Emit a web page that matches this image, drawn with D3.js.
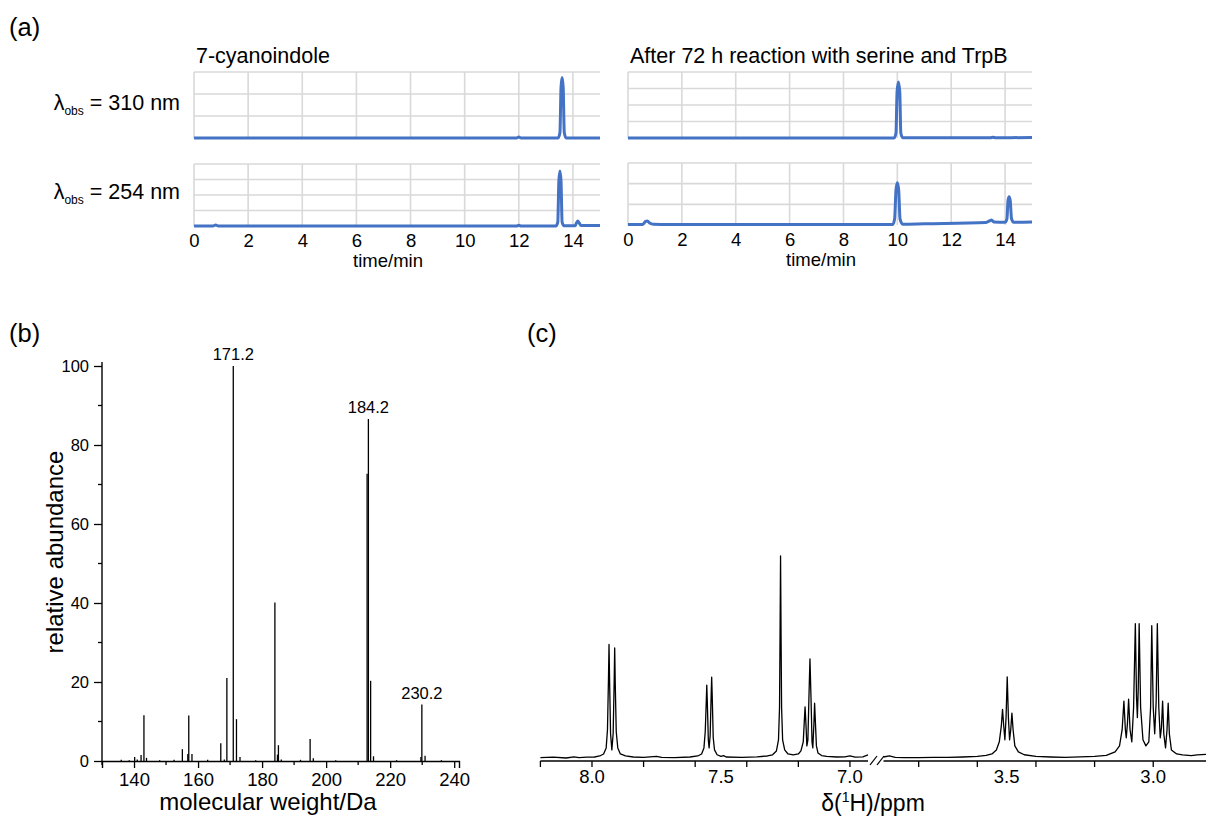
<!DOCTYPE html>
<html><head><meta charset="utf-8">
<script src="https://cdn.jsdelivr.net/npm/d3@7"></script>
<style>
body{margin:0;background:#fff}
svg text{font-family:"Liberation Sans",Arial,sans-serif;fill:#000}
</style>
</head><body>
<svg id="fig" width="1206" height="819"></svg>
<script>
// ---------------- DATA ----------------
// (a) HPLC chromatograms: [time/min, absorbance (grid units)]
const timeTicks = [0, 2, 4, 6, 8, 10, 12, 14];
const chromTitles = ["7-cyanoindole", "After 72 h reaction with serine and TrpB"];
const wavelengths = ["310", "254"];
const chromL310 = [[0,0],[11.92,0],[12.0,0.04],[12.08,0],[13.45,0],[13.52,0.25],[13.56,2.3],[13.6,2.75],[13.64,2.3],[13.68,0.25],[13.75,0],[15,0]];
const chromL254 = [[0,0],[0.7,0],[0.8,0.06],[0.9,0],[11.92,0],[12.0,0.05],[12.08,0],[13.37,0],[13.44,0.25],[13.48,2.9],[13.52,3.55],[13.56,2.9],[13.6,0.25],[13.67,0.02],[14.08,0.02],[14.13,0.2],[14.18,0.32],[14.23,0.2],[14.3,0.04],[15,0.04]];
const chromR310 = [[0,0],[9.88,0],[9.95,0.3],[9.99,2.8],[10.04,3.4],[10.09,2.8],[10.13,0.3],[10.2,0.01],[13.45,0.01],[13.55,0.05],[13.65,0.01],[14.2,0.02],[15,0.03]];
const chromR254 = [[0,0.02],[0.55,0.03],[0.65,0.17],[0.72,0.19],[0.8,0.1],[0.95,0.04],[1.5,0.02],[9.83,0.02],[9.9,0.3],[9.95,1.7],[10.0,2.05],[10.05,1.7],[10.1,0.3],[10.2,0.04],[11,0.06],[13.3,0.12],[13.42,0.2],[13.5,0.24],[13.58,0.15],[14.0,0.13],[14.07,0.3],[14.11,1.2],[14.15,1.37],[14.19,1.2],[14.24,0.3],[14.32,0.13],[15,0.14]];
const gridMaxL310 = 3, gridMaxL254 = 4, gridMaxR310 = 4, gridMaxR254 = 3;

// (b) mass spectrum: [m/z, relative abundance]
const msTicksMajor = [140, 160, 180, 200, 220, 240];
const msTicksMinor = [130, 150, 170, 190, 210, 230];
const abTicksMajor = [0, 20, 40, 60, 80, 100];
const abTicksMinor = [10, 30, 50, 70, 90];
const msPeaks = [[136.0,0.3],[138.5,0.2],[140.2,1.0],[141.0,0.4],[142.2,1.5],[143.1,11.6],[143.9,0.8],[148.0,0.2],[152.5,0.3],[155.1,3.0],[156.8,1.8],[157.1,11.5],[158.1,1.8],[163.0,0.3],[167.1,4.5],[168.2,0.4],[169.0,21.0],[171.0,100],[172.0,10.6],[173.1,1.0],[178.0,0.2],[184.0,40.1],[184.8,1.6],[185.1,4.0],[186.0,0.4],[192.0,0.3],[195.0,5.6],[196.0,0.7],[203.0,0.2],[212.8,72.7],[213.2,86.6],[213.9,20.3],[214.8,1.2],[222.0,0.2],[229.6,1.0],[229.9,14.3],[230.9,1.3],[236.0,0.2]];
const msLabelMz = [171.0, 213.2, 229.9];
const msLabelVal = [100, 86.6, 14.3];
const msLabelText = ["171.2", "184.2", "230.2"];

// (c) 1H NMR: [ppm, intensity]
const nmrTicksLeft = [8.2, 8.0, 7.8, 7.6, 7.4, 7.2, 7.0];
const nmrLabelsLeft = [8.0, 7.5, 7.0];
const nmrTicksRight = [3.8, 3.6, 3.4, 3.2, 3.0];
const nmrLabelsRight = [3.5, 3.0];
const nmrLeft = [[8.20,0.2],[8.15,0.4],[8.10,0.0],[8.07,0.6],[8.05,0.2],[8.02,0.4],[7.99,0.5],[7.97,1.0],[7.955,2.0],[7.945,5],[7.940,14],[7.936,40],[7.934,56.2],[7.932,40],[7.928,12],[7.923,4],[7.918,12],[7.914,38],[7.912,54.5],[7.910,38],[7.906,13],[7.900,5],[7.89,2.0],[7.87,1.0],[7.84,0.5],[7.80,0.3],[7.75,0.8],[7.73,0.3],[7.68,0.2],[7.62,0.5],[7.59,1.0],[7.575,2],[7.566,5],[7.561,13],[7.557,28],[7.555,36.1],[7.553,28],[7.549,9],[7.546,5],[7.542,11],[7.538,31],[7.536,40],[7.534,31],[7.530,10],[7.525,4],[7.515,1.6],[7.50,0.8],[7.49,1.2],[7.48,0.5],[7.42,0.3],[7.36,0.6],[7.32,1.0],[7.30,1.6],[7.285,3.5],[7.277,9],[7.273,25],[7.271,60],[7.269,100],[7.267,60],[7.265,25],[7.261,9],[7.253,4],[7.24,2.0],[7.22,1.5],[7.20,2.0],[7.19,3.5],[7.181,8],[7.177,18],[7.174,25.3],[7.171,18],[7.167,6],[7.163,9],[7.159,30],[7.155,49.1],[7.151,30],[7.147,8],[7.144,5],[7.140,16],[7.137,27.1],[7.134,18],[7.130,6],[7.124,2.5],[7.11,1.2],[7.09,0.8],[7.05,0.5],[7.02,0.6],[7.00,1.0],[6.98,0.4],[6.95,0.6],[6.93,1.5]];
const nmrRight = [[3.92,0.5],[3.90,1.0],[3.88,0.3],[3.85,0.2],[3.80,0.2],[3.75,0.3],[3.70,0.3],[3.65,0.5],[3.60,0.8],[3.57,1.3],[3.55,2.0],[3.535,4],[3.525,8],[3.518,16],[3.514,24.1],[3.510,16],[3.506,9],[3.502,20],[3.498,40.2],[3.494,20],[3.490,9],[3.486,14],[3.482,22.2],[3.478,14],[3.472,6],[3.46,3],[3.44,1.6],[3.40,0.8],[3.35,0.5],[3.30,0.3],[3.25,0.6],[3.20,0.8],[3.16,1.3],[3.13,3],[3.115,6],[3.106,14],[3.100,28.2],[3.095,14],[3.092,10],[3.088,17],[3.084,29.1],[3.079,14],[3.073,8],[3.067,25],[3.061,66.5],[3.057,30],[3.054,20],[3.051,35],[3.048,66.5],[3.043,25],[3.035,9],[3.025,6],[3.015,8],[3.009,25],[3.005,65.5],[3.000,25],[2.995,12],[2.990,28],[2.986,66.5],[2.981,25],[2.976,10],[2.972,15],[2.968,28.2],[2.964,12],[2.958,5],[2.953,14],[2.949,27.1],[2.945,12],[2.938,4],[2.92,2.0],[2.90,1.5],[2.87,1.2],[2.85,1.5],[2.82,1.8]];

// ---------------- DRAW ----------------
const svg = d3.select("#fig");
const F = "Liberation Sans, Arial, sans-serif";
const blue = "#4472c4", grid = "#d9d9d9";

function panelLabel(txt, x, y){
  svg.append("text").attr("x", x).attr("y", y).attr("font-size", 25.5).text(txt);
}
panelLabel("(a)", 9, 36);
panelLabel("(b)", 9, 342);
panelLabel("(c)", 527, 342);

// ---- (a) ----
const chromPanels = [
  {data: chromL310, xr: [194, 600], yr: [138, 72], gmax: gridMaxL310, axis: false},
  {data: chromL254, xr: [194, 600], yr: [226, 164], gmax: gridMaxL254, axis: true},
  {data: chromR310, xr: [628, 1032], yr: [138, 72], gmax: gridMaxR310, axis: false},
  {data: chromR254, xr: [628, 1032], yr: [225, 163], gmax: gridMaxR254, axis: true}
];
chromPanels.forEach(p => {
  const x = d3.scaleLinear().domain([0, 15]).range(p.xr);
  const y = d3.scaleLinear().domain([0, p.gmax]).range(p.yr);
  const g = svg.append("g");
  g.selectAll("line.h").data(y.ticks(p.gmax).filter(d => d > 0)).join("line")
    .attr("x1", x(0)).attr("x2", x(15)).attr("y1", d => y(d)).attr("y2", d => y(d))
    .attr("stroke", grid).attr("stroke-width", 1.6);
  g.selectAll("line.v").data(timeTicks).join("line")
    .attr("x1", d => x(d)).attr("x2", d => x(d)).attr("y1", y(0)).attr("y2", y(p.gmax))
    .attr("stroke", grid).attr("stroke-width", 1.6);
  g.append("path").datum(p.data)
    .attr("d", d3.line().x(d => x(d[0])).y(d => y(d[1])).curve(d3.curveMonotoneX))
    .attr("fill", "none").attr("stroke", blue).attr("stroke-width", 3).attr("stroke-linejoin", "round");
  if (p.axis) {
    const ax = g.append("g").attr("transform", `translate(0,${y(0)})`)
      .call(d3.axisBottom(x).tickValues(timeTicks).tickSize(0).tickPadding(8));
    ax.select(".domain").remove();
    ax.selectAll("text").attr("font-size", 18.5).attr("font-family", F).attr("fill", "#000");
    g.append("text").attr("x", (p.xr[0] + p.xr[1]) / 2 - 9).attr("y", y(0) + 41)
      .attr("text-anchor", "middle").attr("font-size", 18.5).text("time/min");
  }
});
svg.append("text").attr("x", 196).attr("y", 63).attr("font-size", 21.5).text(chromTitles[0]);
svg.append("text").attr("x", 630).attr("y", 63).attr("font-size", 21.5).text(chromTitles[1]);
[[110, wavelengths[0]], [199, wavelengths[1]]].forEach(([yy, wl]) => {
  const t = svg.append("text").attr("x", 180).attr("y", yy).attr("text-anchor", "end").attr("font-size", 21.5);
  t.append("tspan").text("λ");
  t.append("tspan").attr("font-size", 12).attr("dy", 5).text("obs");
  t.append("tspan").attr("dy", -5).text(" = " + wl + " nm");
});

// ---- (b) ----
const mx = d3.scaleLinear().domain([130, 241.5]).range([102, 459]);
const my = d3.scaleLinear().domain([0, 100]).range([761, 366]);
const gb = svg.append("g");
gb.selectAll("line.pk").data(msPeaks).join("line")
  .attr("x1", d => mx(d[0])).attr("x2", d => mx(d[0])).attr("y1", my(0)).attr("y2", d => my(d[1]))
  .attr("stroke", "#000").attr("stroke-width", 1.3);
const axX = gb.append("g").attr("transform", `translate(0,${my(0)})`)
  .call(d3.axisBottom(mx).tickValues(msTicksMajor).tickSize(7).tickPadding(5));
axX.select(".domain").attr("stroke-width", 1.4);
axX.selectAll("line").attr("stroke-width", 1.3);
axX.selectAll("text").attr("font-size", 18.5).attr("font-family", F).attr("fill", "#000");
gb.selectAll("line.mnx").data(msTicksMinor).join("line")
  .attr("x1", d => mx(d)).attr("x2", d => mx(d)).attr("y1", my(0)).attr("y2", my(0) + 4)
  .attr("stroke", "#000").attr("stroke-width", 1.3);
const axY = gb.append("g").attr("transform", `translate(${mx(130)},0)`)
  .call(d3.axisLeft(my).tickValues(abTicksMajor).tickSize(8).tickPadding(5));
axY.select(".domain").attr("d", `M0,${my(0)}V${my(101)}`).attr("stroke-width", 1.4);
axY.selectAll("line").attr("stroke-width", 1.3);
axY.selectAll("text").attr("font-size", 16.5).attr("font-family", F).attr("fill", "#000");
gb.selectAll("line.mny").data(abTicksMinor).join("line")
  .attr("x1", mx(130) - 4).attr("x2", mx(130)).attr("y1", d => my(d)).attr("y2", d => my(d))
  .attr("stroke", "#000").attr("stroke-width", 1.3);
gb.selectAll("text.pl").data(msLabelText).join("text")
  .attr("x", (d, i) => mx(msLabelMz[i])).attr("y", (d, i) => my(msLabelVal[i]) - 6)
  .attr("text-anchor", "middle").attr("font-size", 16.5).text(d => d);
gb.append("text").attr("transform", `translate(63,552) rotate(-90)`)
  .attr("text-anchor", "middle").attr("font-size", 24).text("relative abundance");
gb.append("text").attr("x", 268).attr("y", 810).attr("text-anchor", "middle")
  .attr("font-size", 24).text("molecular weight/Da");

// ---- (c) ----
const nxL = d3.scaleLinear().domain([8.2, 6.93]).range([540.4, 868]);
const nxR = d3.scaleLinear().domain([3.92, 2.82]).range([883.5, 1206]);
const ny = d3.scaleLinear().domain([0, 100]).range([758, 556]);
const axisY = 761;
const gc = svg.append("g");
[[nxL, nmrLeft, nmrTicksLeft, nmrLabelsLeft], [nxR, nmrRight, nmrTicksRight, nmrLabelsRight]].forEach(([sx, data, ticks, labels]) => {
  gc.append("line").attr("x1", sx.range()[0]).attr("x2", sx.range()[1]).attr("y1", axisY).attr("y2", axisY)
    .attr("stroke", "#000").attr("stroke-width", 1.3);
  gc.append("g").selectAll("line").data(ticks).join("line")
    .attr("x1", d => sx(d)).attr("x2", d => sx(d)).attr("y1", axisY).attr("y2", axisY + 6)
    .attr("stroke", "#000").attr("stroke-width", 1.3);
  gc.append("g").selectAll("text").data(labels).join("text")
    .attr("x", d => sx(d)).attr("y", 783).attr("text-anchor", "middle").attr("font-size", 18.5)
    .text(d => d.toFixed(1));
  gc.append("path").datum(data)
    .attr("d", d3.line().x(d => sx(d[0])).y(d => ny(d[1])))
    .attr("fill", "none").attr("stroke", "#000").attr("stroke-width", 1.3).attr("stroke-linejoin", "round");
});
// axis break marks
[[870, 877], [877, 884]].forEach(([a, b]) => {
  gc.append("line").attr("x1", a).attr("y1", axisY + 4).attr("x2", b).attr("y2", axisY - 5)
    .attr("stroke", "#000").attr("stroke-width", 1.2);
});
const dl = gc.append("text").attr("x", 873).attr("y", 811).attr("text-anchor", "middle").attr("font-size", 23);
dl.append("tspan").text("δ(");
dl.append("tspan").attr("font-size", 14).attr("dy", -9).text("1");
dl.append("tspan").attr("dy", 9).text("H)/ppm");
</script>
</body></html>
